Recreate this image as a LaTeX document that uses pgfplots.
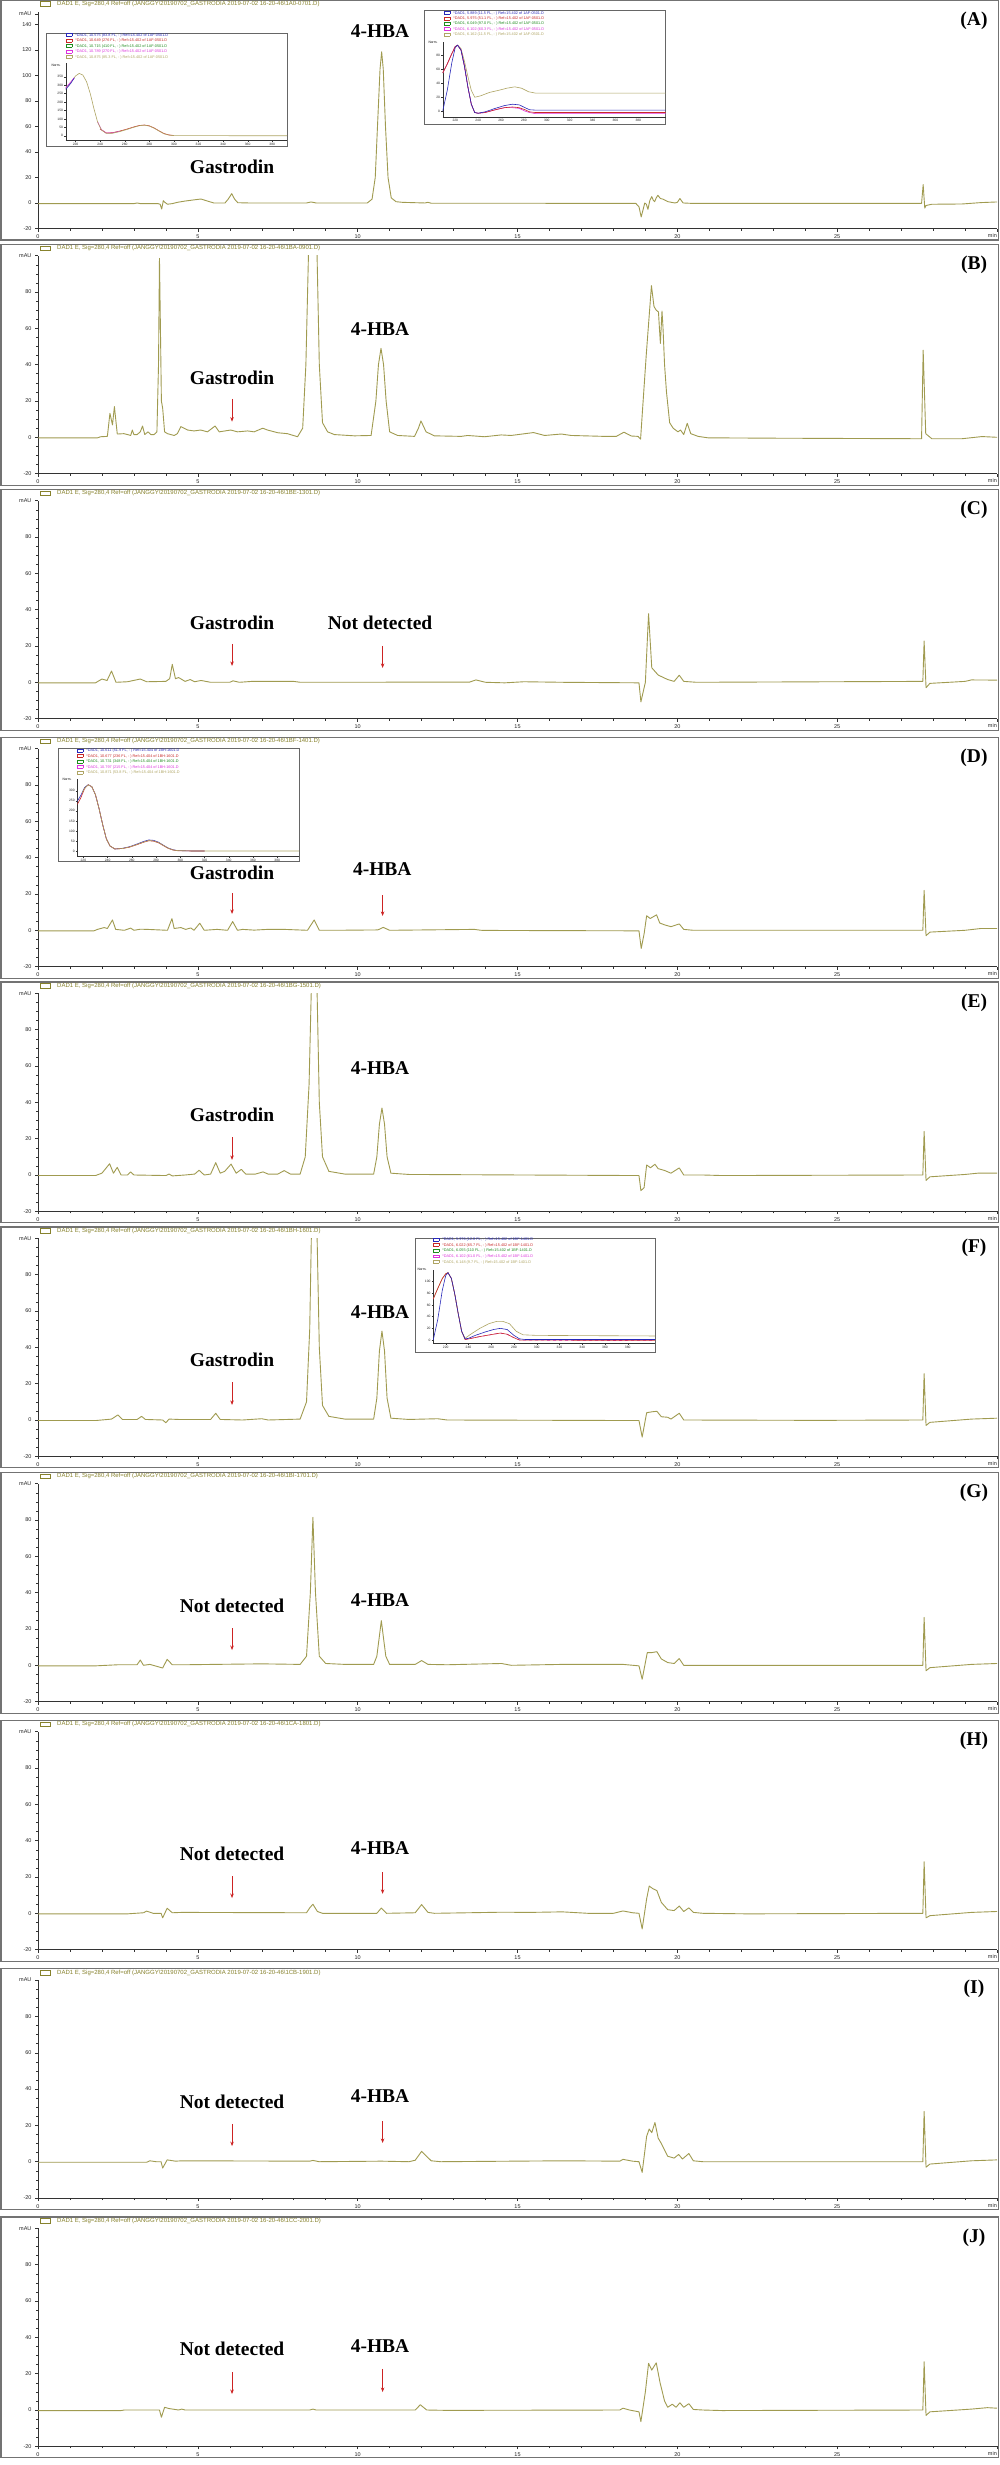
\documentclass[border=0pt]{standalone}
\usepackage{pgfplots}
\pgfplotsset{compat=1.18}
\usetikzlibrary{arrows.meta}
\usepackage{fontspec}
\setmainfont{Liberation Sans}
\newfontfamily\tnr{Liberation Serif}
\definecolor{trace}{RGB}{160,155,80}
\definecolor{hdr}{RGB}{135,130,45}
\definecolor{framec}{RGB}{115,115,115}
\definecolor{arr}{RGB}{205,35,35}
\definecolor{iblue}{RGB}{40,40,185}
\definecolor{ired}{RGB}{200,40,40}
\definecolor{igreen}{RGB}{30,140,30}
\definecolor{imag}{RGB}{220,50,220}
\definecolor{iolive}{RGB}{175,165,100}

\pgfplotsset{
  chrom/.style={
    scale only axis, width=959pt, height=217.9pt, anchor=south west,
    xmin=0, xmax=30, ymin=-20, ymax=100,
    axis x line=bottom, axis y line=left,
    axis line style={-, black!80, line width=0.6pt},
    xtick={0,5,...,30}, xticklabels={0,5,10,15,20,25,},
    ytick={-20,0,20,40,60,80,100}, yticklabels={-20,0,20,40,60,80,mAU},
    minor x tick num=4, minor y tick num=3,
    tick align=outside, major tick length=3pt, minor tick length=2pt,
    tick style={black!80, line width=0.5pt},
    ticklabel style={font=\fontsize{5.5}{6}\selectfont, text=black!85},
    clip mode=individual,
  },
  tr/.style={color=trace, line width=0.9pt, mark=none, line join=round},
  inset/.style={
    scale only axis, anchor=south west,
    axis x line=bottom, axis y line=left,
    axis line style={-, black!80, line width=0.4pt},
    tick align=outside, major tick length=1.5pt,
    tick style={black!80, line width=0.3pt},
    ticklabel style={font=\fontsize{3.3}{3.6}\selectfont, text=black!85, inner sep=1pt},
    /pgf/number format/assume math mode=true,
    clip mode=individual,
  },
  sp/.style={line width=0.6pt, mark=none},
}
\newcommand{\ann}[3]{\node[font=\tnr\bfseries\fontsize{19.5}{20}\selectfont, inner sep=0] at (axis cs:#1,#2) {#3};}
\newcommand{\arrw}[3]{\draw[arr, line width=0.8pt, -{Stealth[length=4.5pt,width=3.5pt]}] (axis cs:#1,#2) -- (axis cs:#1,#3);}
\newcommand{\minlab}{\node[anchor=north east, font=\fontsize{5.5}{6}\selectfont, text=black!85, inner sep=0] at ([yshift=-5pt]rel axis cs:1,0) {min};}
\newcommand{\panelframe}[4]{%
  \pgfmathsetmacro{\ft}{-(#1-11.5)}%
  \pgfmathsetmacro{\fb}{-(#2+11.5)}%
  \pgfmathsetmacro{\hy}{-(#1-7.5)}%
  \pgfmathsetmacro{\ly}{-(#1+9)}%
  \draw[framec, line width=1.2pt] (1pt,\ft pt) rectangle (998.5pt,\fb pt);
  \draw[hdr, line width=0.5pt] (40pt,\hy pt-2.3pt) rectangle (50pt,\hy pt+2.3pt);
  \node[anchor=west, text=hdr, font=\fontsize{6}{7}\selectfont, inner sep=0] at (57pt,\hy pt) {DAD1 E, Sig=280,4 Ref=off (JANGGY\textbackslash 20190702\_GASTRODIA 2019-07-02 16-20-46\textbackslash #3)};
  \node[font=\tnr\bfseries\fontsize{19.5}{20}\selectfont, inner sep=0] at (974pt,\ly pt) {(#4)};
}
\newcommand{\lgl}[2]{\textcolor{#1}{\fboxsep=0pt\fboxrule=0.35pt\fbox{\rule{0pt}{2.6pt}\hspace{5.5pt}}\hspace{3pt}#2}}
\newcommand{\ibox}[4]{\fill[white] (#1pt,-#2pt) rectangle (#3pt,-#4pt); \draw[black!60, line width=0.7pt] (#1pt,-#2pt) rectangle (#3pt,-#4pt);}

\begin{document}
\begin{tikzpicture}
\useasboundingbox (0,0) rectangle (1000pt,-2465pt);
\fill[white] (0,0) rectangle (1000pt,-2465pt);

% ================= Panel A =================
\panelframe{11.5}{228.5}{1A0-0701.D}{A}
\begin{axis}[chrom, at={(38pt,-228.5pt)}, height=217pt, ymin=-20, ymax=150,
  ytick={-20,0,20,40,60,80,100,120,140,148}, yticklabels={-20,0,20,40,60,80,100,120,140,mAU}]
\addplot[tr] coordinates {(0,-0.5) (3.0,-0.5) (3.1,0) (3.2,-0.5) (3.75,-0.5) (3.82,-1) (3.87,-4.7) (3.92,1.8) (3.97,0.5) (4.05,-1) (4.2,-0.5) (4.36,0.5) (4.6,1.5) (4.9,2.5) (5.1,3.1) (5.3,1.5) (5.5,0) (5.85,0) (5.95,3) (6.06,7.3) (6.15,3) (6.25,0.2) (6.6,0) (8.4,0) (8.54,0.8) (8.7,0) (10.3,0) (10.45,3) (10.55,20) (10.62,60) (10.7,105) (10.75,118.4) (10.8,105) (10.87,60) (10.95,20) (11.05,4) (11.2,1) (11.4,0.5) (12.1,0) (12.2,0.5) (12.3,-0.2) (18.7,-0.3) (18.8,-3) (18.87,-11) (18.94,-4) (18.98,0) (19.03,-1) (19.08,-5) (19.14,2) (19.2,5) (19.25,2) (19.29,1) (19.34,4) (19.39,6) (19.47,3.5) (19.55,3) (19.71,1) (19.92,0) (20.0,0.5) (20.08,3.5) (20.18,0) (20.44,-0.3) (27.64,-0.3) (27.69,14.4) (27.74,-4) (27.78,-2) (27.96,-1) (28.9,-0.8) (29.5,0.3) (30,0.8)};
\ann{10.7}{135}{4-HBA}
\ann{6.07}{28.5}{Gastrodin}
\minlab
\end{axis}
% inset A1
\ibox{46.7}{33.3}{287.3}{146.7}
\begin{axis}[inset, at={(65.7pt,-140pt)}, width=221.3pt, height=76.7pt, xmin=212, xmax=392, ymin=-25, ymax=430, xtick={220,240,...,380}, ytick={0,50,...,350}]
\addplot[sp, ired] coordinates {(240,40) (245,17) (250,18) (256,28) (262,40) (268,54) (272,61) (276,64) (280,59) (284,46) (288,29) (292,13) (296,5) (300,2)};
\addplot[sp, imag] coordinates {(238,82) (241,37) (245,16) (250,17) (256,27)};
\addplot[sp, iolive] coordinates {(212,280) (216,315) (220,355) (223,370) (226,360) (229,320) (232,250) (235,160) (238,80) (241,35) (245,14) (250,15) (256,25) (262,38) (268,52) (272,60) (276,63) (280,58) (284,45) (288,28) (292,12) (296,4) (300,1) (392,0)};
\addplot[sp, imag] coordinates {(212,285) (216,318) (219,345)};
\addplot[sp, iblue] coordinates {(212,275) (216,310) (219,343)};
\end{axis}
\node[anchor=north west, align=left, inner sep=0, font=\fontsize{3.8}{5.5}\selectfont] at (66pt,-33pt) {\lgl{iblue}{*DAD1, 10.575 (83.8 FL, - ) Ref=15.402 of 1AF-0501.D}\\ \lgl{ired}{*DAD1, 10.649 (276 FL, - ) Ref=15.402 of 1AF-0501.D}\\ \lgl{igreen}{*DAD1, 10.715 (410 FL, - ) Ref=15.402 of 1AF-0501.D}\\ \lgl{imag}{*DAD1, 10.789 (270 FL, - ) Ref=15.402 of 1AF-0501.D}\\ \lgl{iolive}{*DAD1, 10.875 (85.3 FL, - ) Ref=15.402 of 1AF-0501.D}};
\node[font=\fontsize{3.3}{3.6}\selectfont, inner sep=0] at (56pt,-65pt) {Norm.};
% inset A2
\ibox{424.3}{10.7}{665.7}{124}
\begin{axis}[inset, at={(442.7pt,-116.7pt)}, width=223pt, height=75pt, xmin=209, xmax=404, ymin=-8, ymax=100, xtick={220,240,...,380}, ytick={0,20,...,80}]
\addplot[sp, iolive] coordinates {(209,55) (213,68) (217,83) (220,93) (222,95) (225,90) (228,72) (231,50) (234,30) (237,20) (242,22) (250,27) (258,30) (265,33) (272,35) (278,33) (284,28) (290,26) (404,26)};
\addplot[sp, imag] coordinates {(209,55) (213,68) (217,83) (220,93) (222,95) (225,88) (228,65) (231,35) (234,10) (237,-2) (240,-3) (246,-2) (255,2) (263,5) (270,5) (276,4) (281,0) (285,-2) (290,-3.5) (404,-3.5)};
\addplot[sp, ired] coordinates {(209,55) (213,68) (217,83) (220,93) (222,95) (225,88) (228,65) (231,35) (234,10) (237,-2) (240,-3) (246,-2) (255,2) (263,5) (270,6) (276,5) (281,2) (285,-1) (290,-2) (404,-2)};
\addplot[sp, iblue] coordinates {(209,0) (213,30) (217,70) (220,92) (222,95) (225,88) (228,65) (231,35) (234,10) (237,-2) (240,-3) (246,-1) (255,4) (263,8) (270,10) (276,9) (281,5) (285,2) (290,1.5) (404,1.5)};
\end{axis}
\node[anchor=north west, align=left, inner sep=0, font=\fontsize{3.8}{5.4}\selectfont] at (444pt,-11pt) {\lgl{iblue}{*DAD1, 5.889 (11.5 FL, - ) Ref=15.402 of 1AF-0501.D}\\ \lgl{ired}{*DAD1, 5.975 (51.1 FL, - ) Ref=15.402 of 1AF-0501.D}\\ \lgl{igreen}{*DAD1, 6.049 (97.0 FL, - ) Ref=15.402 of 1AF-0501.D}\\ \lgl{imag}{*DAD1, 6.102 (60.3 FL, - ) Ref=15.402 of 1AF-0501.D}\\ \lgl{iolive}{*DAD1, 6.162 (11.5 FL, - ) Ref=15.402 of 1AF-0501.D}};
\node[font=\fontsize{3.3}{3.6}\selectfont, inner sep=0] at (433pt,-42.7pt) {Norm.};

% ================= Panel B =================
\panelframe{255.7}{473.6}{1BA-0901.D}{B}
\begin{axis}[chrom, at={(38pt,-473.6pt)}]
\addplot[tr] coordinates {(0,-0.3) (1.86,-0.3) (1.96,0.3) (2.17,0.5) (2.25,13.2) (2.33,6.8) (2.39,16.9) (2.48,1.8) (2.69,2) (2.8,1.5) (2.9,1) (2.95,4) (3.0,1.5) (3.1,1.5) (3.2,3) (3.27,6.2) (3.34,1.5) (3.44,3) (3.53,1.5) (3.63,1.5) (3.72,3) (3.77,40) (3.80,98.5) (3.83,60) (3.86,20) (3.9,16) (3.96,3) (4.05,2) (4.26,1) (4.36,2) (4.47,5.9) (4.68,4) (4.88,3.5) (5.09,4) (5.3,3) (5.54,6.2) (5.67,3) (6.03,4) (6.24,3) (6.56,3.5) (6.76,3) (7.03,5) (7.18,4) (7.5,2.5) (7.8,2) (8.12,0.3) (8.28,5) (8.38,40) (8.46,100) (8.52,200) (8.6,250) (8.68,200) (8.73,100) (8.8,40) (8.9,8) (9.06,3) (9.27,1.5) (9.9,0.8) (10.42,1) (10.57,20) (10.65,40) (10.73,49) (10.81,40) (10.89,20) (11.0,3) (11.25,1) (11.78,0.5) (11.9,5) (11.98,9) (12.06,6) (12.14,3) (12.4,0.8) (13.24,0.5) (13.44,1) (13.97,0.3) (14.49,1.3) (14.8,1) (15.5,2.6) (15.85,1) (16.37,1.8) (16.68,1) (17.72,0.5) (18.09,0.5) (18.33,2.8) (18.56,0.7) (18.77,0.5) (18.85,-1) (18.93,20) (19.03,46) (19.19,83.5) (19.27,72) (19.34,70) (19.41,69) (19.44,60) (19.47,51.7) (19.52,69.5) (19.55,61) (19.6,40) (19.66,25) (19.76,8) (19.87,5) (20.02,3) (20.1,4) (20.2,1.5) (20.31,7.7) (20.42,2) (20.65,0.5) (20.96,-0.3) (23.05,-0.5) (27.64,-0.8) (27.69,48) (27.77,2) (27.96,-0.8) (28.9,-0.8) (29.53,0.4) (30,0)};
\ann{6.07}{32.8}{Gastrodin}
\arrw{6.07}{21.1}{8.6}
\ann{10.7}{59.6}{4-HBA}
\minlab
\end{axis}

% ================= Panel C =================
\panelframe{500.7}{718.6}{1BE-1301.D}{C}
\begin{axis}[chrom, at={(38pt,-718.6pt)}]
\addplot[tr] coordinates {(0,-0.3) (1.8,-0.3) (2.0,1.8) (2.16,1) (2.3,6.2) (2.44,0) (2.8,0.3) (3.2,1.8) (3.4,0.3) (4.0,0.5) (4.12,2) (4.2,9.9) (4.3,2) (4.4,2.6) (4.6,0.5) (4.76,1.5) (4.9,0.3) (5.1,1) (5.4,0) (6.0,0) (6.1,0.8) (6.3,0) (6.7,0.5) (8.0,0.5) (8.2,0) (13.5,0.1) (13.7,1.3) (14.0,0) (14.6,-0.3) (15.2,0.3) (16.4,0) (18.8,-0.3) (18.86,-10.8) (19.0,0) (19.1,37.8) (19.2,8) (19.4,4) (19.7,1.5) (19.9,0.5) (20.06,3.9) (20.2,0.5) (20.6,0) (27.68,0.5) (27.72,22.7) (27.78,-3) (27.9,-0.6) (29.0,0.5) (29.2,1.3) (30,1.2)};
\ann{6.07}{32.7}{Gastrodin}
\ann{10.7}{32.7}{Not detected}
\arrw{6.07}{21.1}{9.0}
\arrw{10.78}{20.0}{7.9}
\minlab
\end{axis}

% ================= Panel D =================
\panelframe{748.7}{966.6}{1BF-1401.D}{D}
\begin{axis}[chrom, at={(38pt,-966.6pt)}]
\addplot[tr] coordinates {(0,-0.3) (1.75,-0.3) (1.86,0.5) (2.07,1.5) (2.17,1) (2.33,5.7) (2.43,0.5) (2.7,0) (2.9,1.2) (3.0,0) (3.2,0.6) (3.42,0.5) (4.05,0) (4.19,6.4) (4.26,1) (4.47,1.5) (4.62,0.5) (4.78,1.3) (4.88,0) (5.06,3.9) (5.2,0) (5.6,0.5) (5.93,0) (6.09,4.8) (6.24,0) (6.4,0.5) (6.76,0.1) (7.18,0.5) (7.7,0.5) (8.43,0) (8.64,5.7) (8.8,0) (9.27,0) (10.63,0.2) (10.8,1.6) (11.0,0) (13.65,0.5) (13.86,0) (14.5,-0.1) (18.8,-0.3) (18.87,-10) (18.96,-2) (19.04,8) (19.15,6.5) (19.25,7.5) (19.35,8.5) (19.45,4) (19.6,3) (19.8,2) (20.06,3.5) (20.2,0.5) (20.5,0) (27.68,0) (27.72,22) (27.78,-3) (27.9,-1) (29.0,0) (29.5,1) (30,1)};
\ann{6.07}{31.6}{Gastrodin}
\ann{10.77}{33.8}{4-HBA}
\arrw{6.07}{20.5}{9.0}
\arrw{10.78}{19.4}{7.9}
\minlab
\end{axis}
\ibox{58.3}{748.3}{299}{861.7}
\begin{axis}[inset, at={(77.3pt,-856pt)}, width=221.7pt, height=76.7pt, xmin=215, xmax=398, ymin=-25, ymax=357, xtick={220,240,...,380}, ytick={0,50,...,300}]
\addplot[sp, iblue] coordinates {(215,248) (218,278) (221,316) (224,330) (227,320) (230,280) (233,210) (236,130) (239,60) (242,25) (246,10) (252,13) (258,21) (264,34) (270,48) (274,55) (278,53) (282,44) (286,29) (290,15) (294,6) (298,2) (310,0) (320,0)};
\addplot[sp, ired] coordinates {(215,232) (218,266) (221,311) (224,330) (227,320) (230,280) (233,210) (236,130) (239,60) (242,25) (246,10) (252,12) (258,19) (264,31) (270,44) (274,51) (278,49) (282,41) (286,27) (290,13) (294,5) (298,1) (310,0) (320,0)};
\addplot[sp, iolive] coordinates {(219,290) (221,312) (224,330) (227,320) (230,280) (233,210) (236,130) (239,60) (242,25) (246,10) (252,12) (258,20) (264,32) (270,45) (274,52) (278,50) (282,42) (286,28) (290,14) (294,5) (298,2) (310,0) (398,0)};
\end{axis}
\node[anchor=north west, align=left, inner sep=0, font=\fontsize{3.8}{5.5}\selectfont] at (77pt,-748.5pt) {\lgl{iblue}{*DAD1, 10.611 (51.9 FL, - ) Ref=15.404 of 1BH-1601.D}\\ \lgl{ired}{*DAD1, 10.677 (236 FL, - ) Ref=15.404 of 1BH-1601.D}\\ \lgl{igreen}{*DAD1, 10.731 (348 FL, - ) Ref=15.404 of 1BH-1601.D}\\ \lgl{imag}{*DAD1, 10.797 (215 FL, - ) Ref=15.404 of 1BH-1601.D}\\ \lgl{iolive}{*DAD1, 10.871 (53.8 FL, - ) Ref=15.404 of 1BH-1601.D}};
\node[font=\fontsize{3.3}{3.6}\selectfont, inner sep=0] at (67pt,-779.3pt) {Norm.};

% ================= Panel E =================
\panelframe{993.4}{1211.3}{1BG-1501.D}{E}
\begin{axis}[chrom, at={(38pt,-1211.3pt)}]
\addplot[tr] coordinates {(0,-0.3) (1.8,-0.3) (2.0,1) (2.24,6.2) (2.36,1) (2.48,4.2) (2.6,0) (2.8,0) (2.9,1.7) (3.0,0) (4.0,-0.3) (4.1,0.5) (4.2,-0.5) (4.6,0) (4.9,0.5) (5.04,2.6) (5.2,0) (5.4,0.5) (5.56,6.8) (5.7,1) (5.84,2) (6.04,6) (6.2,1) (6.36,3.1) (6.5,0.5) (6.8,0.5) (7.04,1.7) (7.2,0.5) (7.5,0.5) (7.7,2.4) (7.9,0.5) (8.2,0.5) (8.36,10) (8.48,50) (8.56,110) (8.64,250) (8.72,110) (8.8,40) (8.9,10) (9.1,2) (9.6,0.5) (10.5,0.5) (10.6,10) (10.68,28) (10.76,36.9) (10.84,28) (10.92,10) (11.04,1) (11.6,0.3) (15.2,0) (18.8,-0.3) (18.86,-8.6) (18.96,-7) (19.04,5.5) (19.16,4) (19.3,5.9) (19.4,3.5) (19.6,2.5) (19.8,1) (20.06,3.9) (20.2,0) (20.8,0) (21.4,-0.3) (27.68,0) (27.72,24) (27.78,-3) (27.9,-1) (29,0.3) (29.4,1) (30,1)};
\ann{10.7}{58.9}{4-HBA}
\ann{6.07}{33.0}{Gastrodin}
\arrw{6.07}{20.9}{8.3}
\minlab
\end{axis}

% ================= Panel F =================
\panelframe{1238.4}{1456.3}{1BH-1601.D}{F}
\begin{axis}[chrom, at={(38pt,-1456.3pt)}]
\addplot[tr] coordinates {(0,-0.3) (1.8,-0.3) (2.3,0.5) (2.5,2.8) (2.64,0.3) (3.1,0.3) (3.24,2) (3.36,0.3) (3.9,0) (4.0,-1.5) (4.1,0.5) (4.4,0.3) (5.4,0.3) (5.56,3.7) (5.7,0.3) (6.4,0) (7.0,0.7) (7.2,0) (8.2,0.5) (8.4,10) (8.5,50) (8.56,110) (8.64,250) (8.72,110) (8.8,40) (8.9,8) (9.1,2) (9.6,0.5) (10.5,0.5) (10.6,12) (10.68,38) (10.76,49) (10.84,38) (10.92,12) (11.04,1) (11.6,0.3) (12.5,0.7) (12.8,0) (18.8,-0.3) (18.9,-9.4) (19.04,4) (19.2,4.5) (19.36,4.8) (19.5,1.8) (19.7,1.5) (19.8,0.5) (20.06,3.7) (20.2,0) (24.4,-0.2) (27.68,0) (27.72,25.5) (27.78,-3) (27.9,-1.3) (29.2,0.5) (30,1)};
\ann{10.7}{59.5}{4-HBA}
\ann{6.07}{33.0}{Gastrodin}
\arrw{6.07}{20.9}{8.3}
\minlab
\end{axis}
\ibox{415.3}{1238}{655}{1352}
\begin{axis}[inset, at={(433.2pt,-1343pt)}, width=221.8pt, height=73.3pt, xmin=209, xmax=404, ymin=-5, ymax=120, xtick={220,240,...,380}, ytick={0,20,...,100}]
\addplot[sp, iolive] coordinates {(209,70) (213,88) (217,105) (220,113) (222,115) (225,105) (228,78) (231,45) (234,15) (237,3) (242,10) (250,20) (258,28) (265,32) (270,32) (276,28) (282,15) (288,9) (300,8) (404,7)};
\addplot[sp, imag, dashed] coordinates {(237,1) (240,2) (250,6) (262,10) (268,12) (274,10) (280,4) (285,0) (404,-1)};
\addplot[sp, ired] coordinates {(209,70) (213,88) (217,105) (220,113) (222,115) (225,105) (228,78) (231,45) (234,15) (237,1) (240,2) (250,6) (262,10) (268,12) (274,10) (280,4) (285,0) (404,-0.5)};
\addplot[sp, iblue] coordinates {(209,0) (213,35) (217,85) (220,110) (222,115) (225,105) (228,78) (231,45) (234,15) (237,2) (240,3) (246,8) (255,14) (262,18) (268,20) (274,18) (280,8) (285,2) (290,1) (404,1)};
\end{axis}
\node[anchor=north west, align=left, inner sep=0, font=\fontsize{3.8}{5.6}\selectfont] at (433pt,-1237.5pt) {\lgl{iblue}{*DAD1, 5.976 (12.8 FL, - ) Ref=15.402 of 1BF-1401.D}\\ \lgl{ired}{*DAD1, 6.022 (65.7 FL, - ) Ref=15.402 of 1BF-1401.D}\\ \lgl{igreen}{*DAD1, 6.055 (110 FL, - ) Ref=15.402 of 1BF-1401.D}\\ \lgl{imag}{*DAD1, 6.102 (61.0 FL, - ) Ref=15.402 of 1BF-1401.D}\\ \lgl{iolive}{*DAD1, 6.148 (9.7 FL, - ) Ref=15.402 of 1BF-1401.D}};
\node[font=\fontsize{3.3}{3.6}\selectfont, inner sep=0] at (422pt,-1269.7pt) {Norm.};

% ================= Panel G =================
\panelframe{1483.7}{1701.6}{1BI-1701.D}{G}
\begin{axis}[chrom, at={(38pt,-1701.6pt)}]
\addplot[tr] coordinates {(0,-0.3) (1.8,-0.3) (2.5,0.3) (3.1,0.3) (3.2,2.9) (3.3,0) (3.5,0.5) (3.9,-1.5) (4.04,3.3) (4.2,0.3) (4.6,0.3) (5.5,0.5) (7.0,0.8) (8.2,0.5) (8.4,5) (8.52,40) (8.6,81.5) (8.68,40) (8.8,5) (9.0,1) (9.6,0.5) (10.5,0.5) (10.6,5) (10.74,24.6) (10.88,5) (11.0,0.5) (11.8,0.5) (12.0,2.6) (12.2,0.5) (12.8,0.3) (14.5,1) (14.8,0) (16.4,0.5) (18.3,0.5) (18.8,-0.3) (18.9,-7.7) (19.06,7) (19.2,7) (19.36,7.5) (19.5,3.5) (19.7,1.5) (19.9,1) (20.06,3.7) (20.2,0) (27.68,0) (27.72,26.4) (27.78,-3) (27.9,-1.3) (29.2,0.5) (30,1)};
\ann{6.07}{32.7}{Not detected}
\ann{10.7}{36.0}{4-HBA}
\arrw{6.07}{20.5}{8.4}
\minlab
\end{axis}

% ================= Panel H =================
\panelframe{1731.7}{1949.6}{1CA-1801.D}{H}
\begin{axis}[chrom, at={(38pt,-1949.6pt)}]
\addplot[tr] coordinates {(0,-0.3) (2.8,-0.3) (3.3,0.3) (3.4,1.2) (3.6,0) (3.85,0) (3.9,-2.5) (4.04,2.8) (4.2,0.3) (4.5,0.5) (8.4,0.3) (8.5,3) (8.6,5) (8.74,1) (8.9,0) (10.6,0) (10.74,2.9) (10.9,0) (11.8,0.3) (12.0,4.8) (12.2,0.5) (12.4,0) (14.5,0.6) (15.4,0.5) (16.4,0.8) (17.2,0) (18.0,0) (18.3,1.3) (18.6,0.3) (18.8,0) (18.9,-8.6) (19.04,8) (19.12,15) (19.24,13.5) (19.36,12.5) (19.5,6) (19.7,2) (19.9,1.5) (20.06,4) (20.2,1) (20.36,3) (20.5,0.5) (20.8,0) (22.2,-0.3) (27.68,0) (27.72,28.4) (27.78,-2.5) (27.9,-1.3) (29.2,0.5) (30,1)};
\ann{6.07}{32.7}{Not detected}
\ann{10.7}{36.0}{4-HBA}
\arrw{6.07}{20.5}{8.4}
\arrw{10.78}{22.7}{10.7}
\minlab
\end{axis}

% ================= Panel I =================
\panelframe{1980.1}{2198.0}{1CB-1901.D}{I}
\begin{axis}[chrom, at={(38pt,-2198pt)}]
\addplot[tr] coordinates {(0,-0.3) (3.4,-0.3) (3.5,0.5) (3.7,0) (3.85,0) (3.9,-3.5) (4.04,1) (4.3,0.3) (4.5,0.5) (8.5,0.3) (8.6,0.7) (8.8,0) (10.74,0.3) (11.6,0) (11.8,0.8) (12.0,5.7) (12.3,0.5) (12.6,0) (16.4,0.5) (18.2,0.3) (18.3,1.3) (18.6,0.3) (18.8,0) (18.9,-5.9) (19.04,14) (19.12,18) (19.2,16) (19.3,21.6) (19.4,13) (19.5,10) (19.7,3) (19.9,2) (20.04,4) (20.16,1.5) (20.36,4.5) (20.5,0.5) (20.8,0) (27.68,0) (27.72,27.7) (27.78,-3) (27.9,-1.3) (29.2,0.5) (30,1)};
\ann{6.07}{32.9}{Not detected}
\ann{10.7}{36.2}{4-HBA}
\arrw{6.07}{20.8}{8.6}
\arrw{10.78}{22.4}{10.3}
\minlab
\end{axis}

% ================= Panel J =================
\panelframe{2228.4}{2446.3}{1CC-2001.D}{J}
\begin{axis}[chrom, at={(38pt,-2446.3pt)}]
\addplot[tr] coordinates {(0,-0.3) (2.6,-0.3) (2.7,0) (3.8,0) (3.86,-4) (3.96,1.5) (4.1,0.8) (4.4,0) (4.5,0.5) (4.6,0) (8.5,0) (8.6,0.5) (8.7,0) (11.8,0) (11.96,2.9) (12.16,0) (12.8,-0.2) (18.2,0) (18.3,1) (18.5,0) (18.8,-1) (18.86,-6.4) (19.0,10) (19.1,25.7) (19.2,22) (19.34,26) (19.46,15) (19.6,5) (19.7,1.5) (19.84,3.2) (19.96,1.5) (20.08,4) (20.2,1.5) (20.36,3.5) (20.5,0.3) (20.8,0) (21.4,-0.3) (27.68,0) (27.72,26.6) (27.78,-3) (27.9,-1) (29.2,0.5) (29.7,1.3) (30,1)};
\ann{6.07}{33.6}{Not detected}
\ann{10.7}{35.2}{4-HBA}
\arrw{6.07}{20.9}{8.8}
\arrw{10.78}{22.6}{9.9}
\minlab
\end{axis}
\end{tikzpicture}
\end{document}
